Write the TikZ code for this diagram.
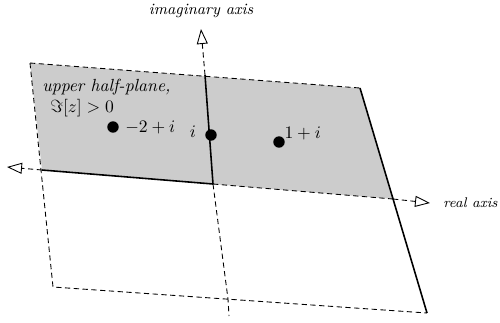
\documentclass[tikz,border=0pt]{standalone}
\usetikzlibrary{arrows.meta}
\begin{document}
\begin{tikzpicture}[x=0.02cm, y=-0.02cm, font=\normalsize,
    dashln/.style={densely dashed, line width=0.5pt},
    solidln/.style={line width=0.9pt},
    axisarr/.style={dashln, -{Triangle[open, length=0.3cm, width=0.22cm]}},
    dot/.style={circle, fill=black, inner sep=0pt, minimum size=6.5pt}]
  \useasboundingbox (0,0) rectangle (500,322);
  % corners of the plane
  \coordinate (tl) at (30,63);
  \coordinate (tr) at (360,88);
  \coordinate (bl) at (53,287);
  \coordinate (br) at (427,313);
  % where the axes meet the edges
  \coordinate (ml) at (42,170);
  \coordinate (mr) at (393,199);
  \coordinate (it) at (205,75);
  \coordinate (ib) at (228,299);
  \coordinate (o) at (213,184);
  % axis ends
  \coordinate (xl) at (7,167);
  \coordinate (xr) at (430,203);
  \coordinate (yt) at (201,29);
  \coordinate (yb) at (229,316);
  \fill[black!20] (tl) -- (tr) -- (mr) -- (ml) -- cycle;
  \draw[dashln] (tl) -- (tr);
  \draw[dashln] (tl) -- (bl) -- (br);
  \draw[solidln] (tr) -- (br);
  % real axis
  \draw[axisarr] (ml) -- (xl);
  \draw[solidln] (ml) -- (o);
  \draw[dashln] (o) -- (mr);
  \draw[axisarr] (mr) -- (xr);
  % imaginary axis
  \draw[axisarr] (it) -- (yt);
  \draw[solidln] (it) -- (o);
  \draw[dashln] (o) -- (ib) -- (yb);
  \node[anchor=south, font=\small\itshape] (ylab) at (201,24) {imaginary axis};
  \node[anchor=west, inner sep=0pt, font=\footnotesize\itshape] (xlab) at (443,203) {real axis};
  \node[anchor=west, inner sep=0pt] (uhp) at (42,87) {\itshape upper half-plane,};
  \node[anchor=west, inner sep=0pt] (imz) at (50,108) {$\Im[z]>0$};
  % points
  \node[dot] (pa) at (113,127) {};
  \node[anchor=west] (pal) at (pa.east) {$-2+i$};
  \node[dot] (pi) at (211,135) {};
  \node[anchor=east, inner sep=1pt] (pil) at ([xshift=-4pt, yshift=2pt]pi.west) {$i$};
  \node[dot] (pb) at (279,142) {};
  \node[anchor=south west, inner sep=0.5pt] (pbl) at ([yshift=-2pt]pb.north east) {$1+i$};
\end{tikzpicture}
\end{document}
